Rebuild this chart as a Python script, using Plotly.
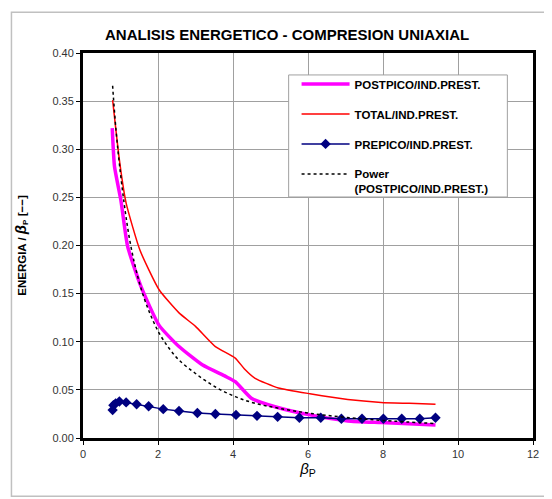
import plotly.graph_objects as go

# POSTPICO/IND.PREST.
post_x = [0.78, 0.84, 1.01, 1.19, 1.55, 2.03, 2.56, 3.18, 3.80, 4.06, 4.50, 5.12, 6.05, 7.06, 7.95, 9.40]
post_y = [0.322, 0.282, 0.247, 0.199, 0.157, 0.117, 0.095, 0.076, 0.064, 0.0585, 0.041, 0.0325, 0.024, 0.0177, 0.016, 0.0135]

# TOTAL/IND.PREST.
tot_x = [0.79, 0.97, 1.15, 1.52, 2.03, 2.56, 3.0, 3.53, 4.06, 4.3, 4.59, 5.21, 6.05, 7.06, 7.95, 8.7, 9.40]
tot_y = [0.351, 0.289, 0.244, 0.195, 0.154, 0.130, 0.116, 0.095, 0.083, 0.072, 0.062, 0.052, 0.046, 0.040, 0.037, 0.036, 0.035]

# PREPICO/IND.PREST.
pre_x = [0.79, 0.81, 0.87, 0.97, 1.15, 1.43, 1.75, 2.14, 2.56, 3.05, 3.53, 4.08, 4.64, 5.19, 5.77, 6.34, 6.89, 7.44, 8.01, 8.50, 8.98, 9.40]
pre_y = [0.029, 0.034, 0.036, 0.038, 0.037, 0.035, 0.033, 0.030, 0.028, 0.026, 0.025, 0.024, 0.023, 0.022, 0.021, 0.021, 0.020, 0.020, 0.020, 0.020, 0.020, 0.021]

# Power (POSTPICO/IND.PREST.) trendline
pow_x = [0.79, 0.8, 0.88, 0.97, 1.1, 1.24, 1.4, 1.59, 1.8, 2.03, 2.3, 2.56, 3.0, 3.53, 4.06, 4.59, 5.21, 6.05, 7.0, 8.0, 9.4]
pow_y = [0.366, 0.36, 0.32, 0.285, 0.243, 0.207, 0.177, 0.150, 0.128, 0.109, 0.093, 0.081, 0.067, 0.053, 0.043, 0.036, 0.031, 0.0257, 0.0215, 0.0183, 0.0150]

x_ticks = [0, 2, 4, 6, 8, 10, 12]
y_ticks = [0.00, 0.05, 0.10, 0.15, 0.20, 0.25, 0.30, 0.35, 0.40]

FONT = "Liberation Sans, Arial, sans-serif"

fig = go.Figure()
fig.add_trace(go.Scatter(x=post_x, y=post_y, mode="lines", name="POSTPICO/IND.PREST.",
                         line=dict(color="#FF00FF", width=3.5, shape="spline", smoothing=0.5), legendgroup="a"))
fig.add_trace(go.Scatter(x=tot_x, y=tot_y, mode="lines", name="TOTAL/IND.PREST.",
                         line=dict(color="#FF0000", width=1.5, shape="spline", smoothing=0.5), legendgroup="b"))
fig.add_trace(go.Scatter(x=pre_x, y=pre_y, mode="lines+markers", name="PREPICO/IND.PREST.",
                         line=dict(color="#000080", width=1.5),
                         marker=dict(symbol="diamond", size=8, color="#000080"), legendgroup="c"))
fig.add_trace(go.Scatter(x=pow_x, y=pow_y, mode="lines", name="Power<br>(POSTPICO/IND.PREST.)",
                         line=dict(color="#000000", width=1.5, dash="dot", shape="spline"), legendgroup="d"))

fig.update_layout(
    width=544, height=491,
    margin=dict(l=72, r=19, t=45, b=61),
    paper_bgcolor="white", plot_bgcolor="white",
    font=dict(family=FONT, size=11, color="#222"),
    title=dict(text="<b>ANALISIS ENERGETICO - COMPRESION UNIAXIAL</b>",
               x=0.513, xanchor="center", y=0.945, yanchor="middle",
               font=dict(family=FONT, size=15, color="#000")),
    showlegend=True,
    legend=dict(x=0.4746, y=0.956, xanchor="left", yanchor="top",
                bgcolor="rgba(0,0,0,0)", borderwidth=0,
                font=dict(family=FONT, size=11.5, color="#000", weight="bold"),
                traceorder="grouped", tracegroupgap=11, itemwidth=48, valign="top"),
    xaxis=dict(range=[0, 12], tickvals=x_ticks, ticktext=[str(v) for v in x_ticks],
               showgrid=True, gridcolor="#A0A0A0", gridwidth=1,
               showline=True, linecolor="#000", linewidth=3, mirror=True,
               ticks="outside", ticklen=4, tickcolor="#000",
               zeroline=False,
               tickfont=dict(family=FONT, size=11, color="#333"),
               title=dict(text="<i>β</i><sub>P</sub>", font=dict(family=FONT, size=15, color="#000"), standoff=4)),
    yaxis=dict(range=[0, 0.40], tickvals=y_ticks, ticktext=["%.2f" % v for v in y_ticks],
               showgrid=True, gridcolor="#A0A0A0", gridwidth=1,
               showline=True, linecolor="#000", linewidth=3, mirror=True,
               ticks="outside", ticklen=4, tickcolor="#000",
               zeroline=False,
               tickfont=dict(family=FONT, size=11, color="#333"),
               title=dict(text="<b>ENERGIA / <span style='font-size:15px'><i>β</i></span><sub>P</sub> [−−]</b>",
                          font=dict(family=FONT, size=11.5, color="#000"), standoff=24)),
)

# legend box (white, hides grid)
fig.add_shape(type="rect", xref="paper", yref="paper",
              x0=0.457, x1=0.943, y0=0.626, y1=0.943,
              line=dict(color="#A0A0A0", width=1), fillcolor="white", layer="above")

# outer light-gray chart frame
fig.add_shape(type="rect", xref="paper", yref="paper",
              x0=-0.159, x1=1.033, y0=-0.151, y1=1.106,
              line=dict(color="#C0C0C0", width=1.5), fillcolor="rgba(0,0,0,0)", layer="below")

fig.write_html("out.html")
